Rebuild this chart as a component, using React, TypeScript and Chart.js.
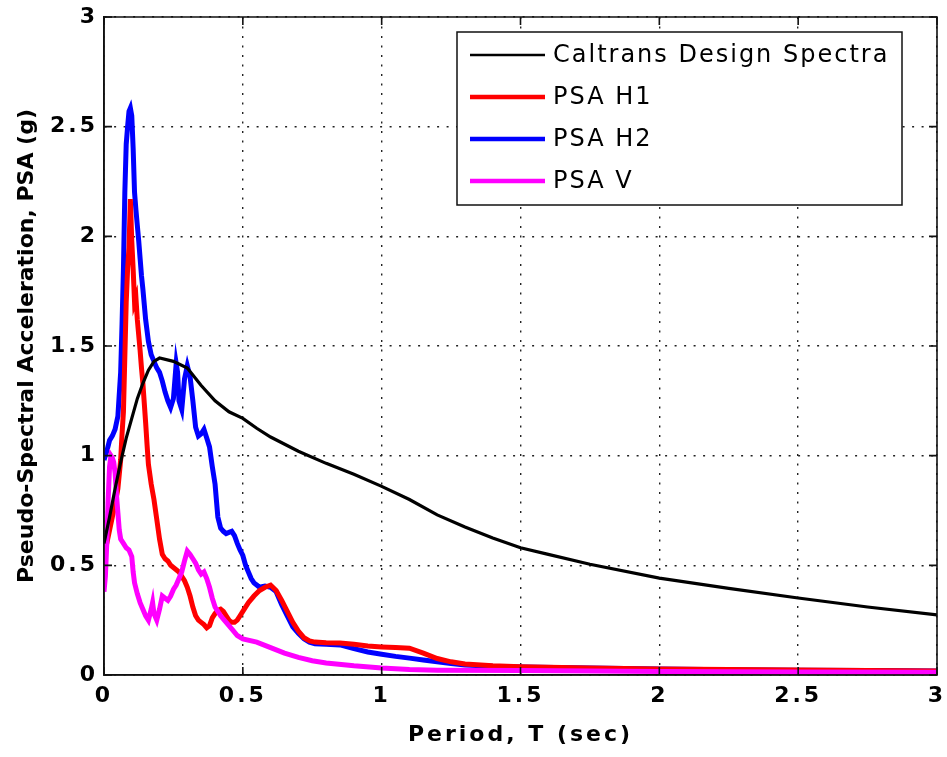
import React, { useEffect, useRef } from "react";
import { Chart, registerables } from "chart.js";

Chart.register(...registerables);

// ---------- data ----------
const seriesLabels = ["Caltrans Design Spectra", "PSA H1", "PSA H2", "PSA V"];
const seriesColors = ["#000000", "#ff0000", "#0000ff", "#ff00ff"];

const xTickValues = [0, 0.5, 1, 1.5, 2, 2.5, 3];
const xTickLabels = ["0", "0.5", "1", "1.5", "2", "2.5", "3"];
const yTickValues = [0, 0.5, 1, 1.5, 2, 2.5, 3];
const yTickLabels = ["0", "0.5", "1", "1.5", "2", "2.5", "3"];

const designT = [0, 0.02, 0.04, 0.06, 0.08, 0.1, 0.12, 0.14, 0.16, 0.18, 0.2, 0.25, 0.3, 0.35, 0.4, 0.45, 0.5, 0.55, 0.6, 0.7, 0.8, 0.9, 1.0, 1.1, 1.2, 1.3, 1.4, 1.5, 1.6, 1.75, 2.0, 2.25, 2.5, 2.75, 3.0];
const designPSA = [0.6, 0.72, 0.85, 0.97, 1.08, 1.17, 1.26, 1.33, 1.39, 1.43, 1.445, 1.43, 1.4, 1.32, 1.25, 1.2, 1.17, 1.125, 1.085, 1.02, 0.965, 0.915, 0.86, 0.8, 0.73, 0.675, 0.625, 0.58, 0.55, 0.505, 0.442, 0.395, 0.351, 0.31, 0.274];

const h1T = [0, 0.01, 0.02, 0.03, 0.04, 0.05, 0.06, 0.065, 0.07, 0.075, 0.08, 0.085, 0.09, 0.095, 0.1, 0.105, 0.11, 0.115, 0.12, 0.125, 0.13, 0.135, 0.14, 0.145, 0.15, 0.155, 0.16, 0.17, 0.18, 0.19, 0.2, 0.21, 0.22, 0.23, 0.24, 0.25, 0.26, 0.27, 0.28, 0.29, 0.3, 0.31, 0.32, 0.33, 0.34, 0.35, 0.36, 0.37, 0.38, 0.39, 0.4, 0.41, 0.42, 0.43, 0.44, 0.45, 0.46, 0.47, 0.48, 0.49, 0.5, 0.52, 0.54, 0.56, 0.58, 0.6, 0.62, 0.64, 0.66, 0.68, 0.7, 0.72, 0.74, 0.76, 0.8, 0.85, 0.9, 0.95, 1.0, 1.05, 1.1, 1.15, 1.2, 1.25, 1.3, 1.4, 1.5, 1.75, 2.0, 2.25, 2.5, 2.75, 3.0];
const h1PSA = [0.55, 0.6, 0.66, 0.72, 0.78, 0.85, 0.98, 1.1, 1.2, 1.45, 1.7, 1.85, 1.95, 2.17, 1.98, 1.85, 1.7, 1.72, 1.62, 1.55, 1.48, 1.4, 1.33, 1.24, 1.15, 1.05, 0.96, 0.87, 0.8, 0.71, 0.62, 0.55, 0.53, 0.52, 0.5, 0.49, 0.48, 0.47, 0.45, 0.43, 0.4, 0.36, 0.31, 0.27, 0.25, 0.24, 0.23, 0.215, 0.225, 0.26, 0.28, 0.295, 0.3, 0.29, 0.27, 0.25, 0.24, 0.24, 0.25, 0.27, 0.29, 0.33, 0.36, 0.385, 0.4, 0.41, 0.385, 0.34, 0.29, 0.24, 0.2, 0.17, 0.155, 0.15, 0.147, 0.146, 0.14, 0.132, 0.128, 0.125, 0.122, 0.1, 0.075, 0.06, 0.05, 0.042, 0.038, 0.032, 0.027, 0.025, 0.023, 0.02, 0.018];

const h2T = [0, 0.01, 0.02, 0.03, 0.04, 0.05, 0.055, 0.06, 0.065, 0.07, 0.075, 0.08, 0.085, 0.09, 0.095, 0.1, 0.105, 0.11, 0.115, 0.12, 0.125, 0.13, 0.135, 0.14, 0.15, 0.16, 0.17, 0.18, 0.19, 0.2, 0.21, 0.22, 0.23, 0.24, 0.25, 0.26, 0.265, 0.27, 0.28, 0.29, 0.3, 0.31, 0.32, 0.33, 0.34, 0.35, 0.36, 0.37, 0.38, 0.39, 0.4, 0.41, 0.42, 0.43, 0.44, 0.45, 0.46, 0.47, 0.48, 0.49, 0.5, 0.51, 0.52, 0.53, 0.54, 0.55, 0.56, 0.58, 0.6, 0.62, 0.64, 0.66, 0.68, 0.7, 0.72, 0.74, 0.76, 0.8, 0.85, 0.9, 0.95, 1.0, 1.05, 1.1, 1.15, 1.2, 1.25, 1.3, 1.4, 1.5, 1.75, 2.0, 2.25, 2.5, 2.75, 3.0];
const h2PSA = [0.98, 1.02, 1.07, 1.09, 1.12, 1.18, 1.28, 1.38, 1.6, 1.85, 2.2, 2.42, 2.5, 2.57, 2.585, 2.55, 2.4, 2.2, 2.12, 2.05, 1.98, 1.9, 1.82, 1.76, 1.62, 1.52, 1.46, 1.43, 1.4, 1.38, 1.34, 1.29, 1.25, 1.22, 1.26, 1.42, 1.38, 1.25, 1.21, 1.35, 1.41, 1.36, 1.25, 1.13, 1.09, 1.1, 1.12, 1.08, 1.04, 0.95, 0.87, 0.72, 0.67, 0.655, 0.645, 0.65, 0.655, 0.635, 0.6, 0.57, 0.545, 0.5, 0.47, 0.44, 0.42, 0.41, 0.4, 0.405, 0.4, 0.38, 0.32, 0.27, 0.22, 0.19, 0.165, 0.15, 0.142, 0.14, 0.137, 0.12, 0.105, 0.095, 0.085, 0.077, 0.068, 0.06, 0.052, 0.046, 0.04, 0.037, 0.032, 0.027, 0.024, 0.022, 0.02, 0.018];

const vT = [0, 0.005, 0.01, 0.015, 0.02, 0.025, 0.03, 0.035, 0.04, 0.045, 0.05, 0.055, 0.06, 0.07, 0.08, 0.09, 0.1, 0.105, 0.11, 0.12, 0.13, 0.14, 0.15, 0.16, 0.17, 0.175, 0.18, 0.19, 0.2, 0.21, 0.22, 0.23, 0.24, 0.25, 0.26, 0.27, 0.28, 0.29, 0.3, 0.31, 0.32, 0.33, 0.34, 0.35, 0.36, 0.37, 0.38, 0.39, 0.4, 0.42, 0.44, 0.46, 0.48, 0.5, 0.55, 0.6, 0.65, 0.7, 0.75, 0.8, 0.9, 1.0, 1.1, 1.2, 1.5, 2.0, 2.5, 3.0];
const vPSA = [0.38, 0.45, 0.6, 0.8, 0.95, 1.0, 0.99, 0.97, 0.92, 0.82, 0.74, 0.66, 0.62, 0.6, 0.58, 0.57, 0.54, 0.47, 0.42, 0.37, 0.33, 0.3, 0.27, 0.25, 0.3, 0.33, 0.28, 0.25, 0.3, 0.36, 0.35, 0.34, 0.36, 0.39, 0.41, 0.44, 0.47, 0.52, 0.565, 0.55, 0.53, 0.51, 0.48, 0.46, 0.47, 0.44, 0.4, 0.35, 0.31, 0.27, 0.24, 0.21, 0.18, 0.165, 0.15, 0.125, 0.1, 0.08, 0.065, 0.055, 0.042, 0.032, 0.025, 0.022, 0.02, 0.016, 0.014, 0.012];

const toPoints = (xs: number[], ys: number[]) => xs.map((x, i) => ({ x, y: ys[i] }));

const TICK_FONT = { family: '"DejaVu Sans"', size: 22, weight: "bold" as const };

const framePlugin = {
  id: "frame",
  beforeLayout(chart: any) {
    chart.ctx.letterSpacing = "3px";
  },
  afterLayout(chart: any) {
    const y = chart.scales.y;
    if (y && !y.__patched) {
      const orig = y.drawTitle.bind(y);
      y.drawTitle = function () {
        const c = this.ctx;
        const prev = c.letterSpacing;
        c.letterSpacing = "0px";
        orig();
        c.letterSpacing = prev;
      };
      y.__patched = true;
    }
  },
  beforeDraw(chart: any) {
    chart.ctx.letterSpacing = "3px";
  },
  afterDatasetsDraw(chart: any) {
    const { ctx, chartArea, scales } = chart;
    const { left, right, top, bottom } = chartArea;
    ctx.save();
    ctx.letterSpacing = "0px";
    ctx.strokeStyle = "#111";
    ctx.lineWidth = 1.6;
    ctx.beginPath();
    ctx.moveTo(left, top);
    ctx.lineTo(right, top);
    ctx.lineTo(right, bottom);
    ctx.lineTo(left, bottom);
    ctx.closePath();
    ctx.stroke();
    const tl = 8;
    ctx.beginPath();
    xTickValues.forEach((v) => {
      const px = scales.x.getPixelForValue(v);
      ctx.moveTo(px, bottom);
      ctx.lineTo(px, bottom - tl);
      ctx.moveTo(px, top);
      ctx.lineTo(px, top + tl);
    });
    yTickValues.forEach((v) => {
      const py = scales.y.getPixelForValue(v);
      ctx.moveTo(left, py);
      ctx.lineTo(left + tl, py);
      ctx.moveTo(right, py);
      ctx.lineTo(right - tl, py);
    });
    ctx.stroke();
    ctx.restore();
  },
  afterDraw(chart: any) {
    const { ctx, chartArea } = chart;
    const w = 445;
    const h = 173;
    const x0 = chartArea.right - 35 - w;
    const y0 = chartArea.top + 15;
    ctx.save();
    ctx.letterSpacing = "0px";
    ctx.fillStyle = "#ffffff";
    ctx.fillRect(x0, y0, w, h);
    ctx.strokeStyle = "#111";
    ctx.lineWidth = 1.5;
    ctx.strokeRect(x0, y0, w, h);
    chart.data.datasets.forEach((ds: any, i: number) => {
      const cy = y0 + 23 + i * 42;
      ctx.strokeStyle = ds.borderColor;
      ctx.lineWidth = i === 0 ? 2.5 : 4.5;
      ctx.beginPath();
      ctx.moveTo(x0 + 13, cy);
      ctx.lineTo(x0 + 88, cy);
      ctx.stroke();
      ctx.fillStyle = "#000";
      ctx.letterSpacing = "2px";
      ctx.font = '24px "DejaVu Sans"';
      ctx.textBaseline = "middle";
      ctx.textAlign = "left";
      ctx.fillText(ds.label, x0 + 96, cy + 1);
      ctx.letterSpacing = "0px";
    });
    ctx.restore();
  },
};

export default function App() {
  const ref = useRef<HTMLCanvasElement | null>(null);
  useEffect(() => {
    if (!ref.current) return;
    const xs = [designT, h1T, h2T, vT];
    const ys = [designPSA, h1PSA, h2PSA, vPSA];
    const orders = [0, 2, 3, 1];
    const chart = new Chart(ref.current, {
      type: "line",
      data: {
        datasets: seriesLabels.map((label, i) => ({
          label,
          data: toPoints(xs[i], ys[i]),
          borderColor: seriesColors[i],
          backgroundColor: seriesColors[i],
          borderWidth: i === 0 ? 3.2 : 5,
          pointRadius: 0,
          tension: 0,
          fill: false,
          order: orders[i],
        })),
      },
      options: {
        animation: false,
        responsive: false,
        maintainAspectRatio: false,
        layout: { padding: { left: 0, right: 10, top: 17, bottom: 0 } },
        plugins: { legend: { display: false }, tooltip: { enabled: false }, title: { display: false } },
        scales: {
          x: {
            type: "linear",
            min: 0,
            max: 3,
            afterBuildTicks: (s: any) => {
              s.ticks = xTickValues.map((v) => ({ value: v }));
            },
            afterFit: (s: any) => {
              s.height = 82;
              s.paddingLeft = 0;
              s.paddingRight = 0;
            },
            ticks: {
              autoSkip: false,
              maxRotation: 0,
              padding: 8,
              color: "#000",
              font: TICK_FONT,
              callback: (_v: any, i: number) => xTickLabels[i],
            },
            grid: { color: "#222", lineWidth: 1.4, drawTicks: false },
            border: { display: true, color: "#111", width: 1.6, dash: [2, 7.5] },
            title: {
              display: true,
              text: "Period, T (sec)",
              color: "#000",
              font: TICK_FONT,
              padding: { top: 0, bottom: 9 },
            },
          },
          y: {
            type: "linear",
            min: 0,
            max: 3,
            afterBuildTicks: (s: any) => {
              s.ticks = yTickValues.map((v) => ({ value: v }));
            },
            afterFit: (s: any) => {
              s.width = 104;
              s.paddingTop = 0;
              s.paddingBottom = 0;
            },
            ticks: {
              autoSkip: false,
              padding: 6,
              color: "#000",
              font: TICK_FONT,
              callback: (_v: any, i: number) => yTickLabels[i],
            },
            grid: { color: "#222", lineWidth: 1.4, drawTicks: false },
            border: { display: true, color: "#111", width: 1.6, dash: [2, 7.5] },
            title: {
              display: true,
              text: "Pseudo-Spectral Acceleration, PSA (g)",
              color: "#000",
              font: TICK_FONT,
              padding: { top: 14, bottom: 0 },
            },
          },
        },
      },
      plugins: [framePlugin],
    });
    return () => chart.destroy();
  }, []);
  return (
    <div style={{ position: "absolute", left: 0, top: 0, width: 947, height: 757, background: "#fff" }}>
      <canvas ref={ref} width={947} height={757} style={{ display: "block" }} />
    </div>
  );
}
